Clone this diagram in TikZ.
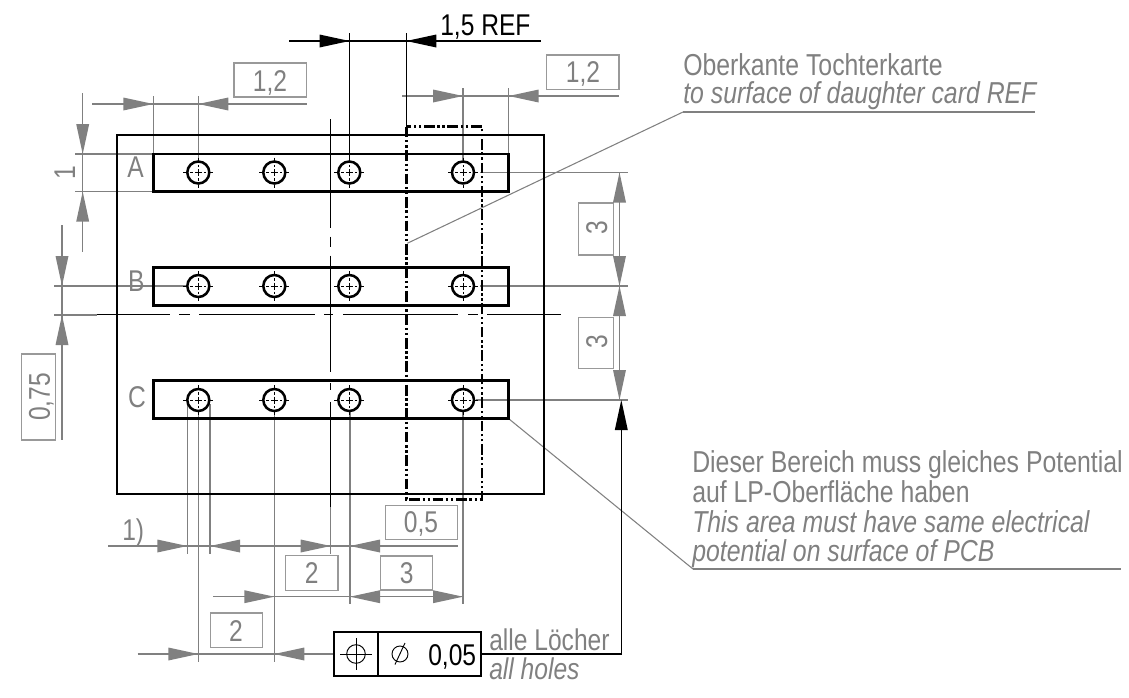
\documentclass[tikz,border=0pt]{standalone}
\usepackage{fontspec}
\setmainfont[FakeStretch=0.82]{Liberation Sans}
\usetikzlibrary{arrows.meta}
\definecolor{dimgray}{HTML}{808080}
\definecolor{boxgray}{HTML}{999999}
\newcommand{\Hole}[2]{%
  \draw[thickline] (#1,#2) circle (11);
  \draw[crossline] (#1-15,#2) -- (#1-12,#2) (#1-8,#2) -- (#1-5.5,#2) (#1-3.5,#2) -- (#1+3.5,#2) (#1+5.5,#2) -- (#1+8,#2) (#1+12,#2) -- (#1+15,#2);
  \draw[crossline] (#1,#2-15) -- (#1,#2-12) (#1,#2-8) -- (#1,#2-5.5) (#1,#2-3.5) -- (#1,#2+3.5) (#1,#2+5.5) -- (#1,#2+8) (#1,#2+12) -- (#1,#2+15);
}
\tikzset{
  thickline/.style={draw=black,line width=1.9pt},
  thinblack/.style={draw=black,line width=0.9pt},
  crossline/.style={draw=black,line width=0.7pt},
  ghostline/.style={draw=dimgray,line width=1pt},
  leader/.style={draw=dimgray,line width=0.8pt},
  noteline/.style={draw=dimgray,line width=1.2pt},
  dimbox/.style={draw=boxgray,line width=1pt},
  outline/.style={draw=black,line width=1.9pt,dash pattern=on 8pt off 2pt on 1.8pt off 2pt on 1.8pt off 2pt},
  gtip/.style={fill=dimgray,draw=none},
  ktip/.style={fill=black,draw=none},
  gtext/.style={text=dimgray,font=\fontsize{22.5}{22.5}\selectfont,inner sep=0pt,anchor=base},
  ktext/.style={text=black,font=\fontsize{22.5}{22.5}\selectfont,inner sep=0pt,anchor=base west},
  notetext/.style={text=dimgray,font=\fontsize{22.7}{22.7}\selectfont,inner sep=0pt,anchor=base west},
  noteit/.style={text=dimgray,font=\fontsize{22.7}{22.7}\selectfont\itshape,inner sep=0pt,anchor=base west},
}
\newcommand{\TipR}[3]{\fill[#1] (#2,#3) -- (#2-30,#3-6.5) -- (#2-30,#3+6.5) -- cycle;}
\newcommand{\TipL}[3]{\fill[#1] (#2,#3) -- (#2+30,#3-6.5) -- (#2+30,#3+6.5) -- cycle;}
\newcommand{\TipD}[3]{\fill[#1] (#2,#3) -- (#2-6.5,#3-30) -- (#2+6.5,#3-30) -- cycle;}
\newcommand{\TipU}[3]{\fill[#1] (#2,#3) -- (#2-6.5,#3+30) -- (#2+6.5,#3+30) -- cycle;}
\begin{document}
\begin{tikzpicture}[x=0.75pt,y=-0.75pt]
\useasboundingbox (0,0) rectangle (1129,697);
% ---------- gray extension and dimension lines
\draw[ghostline] (153.3,96) -- (153.3,154) (198.3,96) -- (198.3,160);
\draw[ghostline] (92,104) -- (306.7,104);
\draw[ghostline] (463,88) -- (463,160) (508.7,88) -- (508.7,154);
\draw[ghostline] (402,96) -- (619,96);
\draw[ghostline] (75,154) -- (153,154) (75,191.7) -- (153,191.7);
\draw[ghostline] (82.7,93) -- (82.7,252);
\draw[ghostline] (54,286) -- (186,286) (54,315) -- (97,315);
\draw[ghostline] (62,225) -- (62,440);
\draw[ghostline] (480,172.5) -- (627.7,172.5) (480,286) -- (627.7,286) (476,400) -- (627.7,400);
\draw[ghostline] (619.5,172.5) -- (619.5,400);
\draw[ghostline] (187.3,404) -- (187.3,554) (198.3,411) -- (198.3,661.7) (210,404) -- (210,554);
\draw[ghostline] (274.3,411) -- (274.3,661.7) (350,411) -- (350,604.3) (463,411) -- (463,604.3);
\draw[ghostline] (330.7,507) -- (330.7,554);
\draw[ghostline] (108,546) -- (457.7,546);
\draw[ghostline] (213,596.7) -- (463,596.7);
\draw[ghostline] (137.7,654) -- (334,654);
% ---------- leaders
\draw[leader] (407.3,243.3) -- (683,112);
\draw[noteline] (683,112) -- (1035,112);
\draw[leader] (508.7,418.7) -- (693,569);
\draw[noteline] (693,569) -- (1121,569);
% ---------- dimension boxes
\draw[dimbox] (234,63) rectangle (306.7,97);
\draw[dimbox] (546.7,55) rectangle (619,89.3);
\draw[dimbox] (21.7,354) rectangle (55.3,440);
\draw[dimbox] (578.7,203) rectangle (613.3,255);
\draw[dimbox] (578.7,317.3) rectangle (613.3,368.7);
\draw[dimbox] (385.7,505.3) rectangle (457.7,539.7);
\draw[dimbox] (285.7,555.7) rectangle (338,590.3);
\draw[dimbox] (380.7,556) rectangle (432.3,590);
\draw[dimbox] (210.3,613) rectangle (262.7,647.3);
% ---------- gray arrowheads
\TipR{gtip}{153.3}{104} \TipL{gtip}{198.3}{104}
\TipR{gtip}{463}{96} \TipL{gtip}{508.7}{96}
\TipD{gtip}{82.7}{154} \TipU{gtip}{82.7}{191.7}
\TipD{gtip}{62}{286} \TipU{gtip}{62}{315}
\TipU{gtip}{619.5}{172.5} \TipD{gtip}{619.5}{286} \TipU{gtip}{619.5}{286} \TipD{gtip}{619.5}{400}
\TipR{gtip}{187.3}{546} \TipL{gtip}{210}{546} \TipR{gtip}{330.7}{546} \TipL{gtip}{350}{546}
\TipR{gtip}{274.3}{596.7} \TipL{gtip}{350}{596.7} \TipR{gtip}{463}{596.7}
\TipR{gtip}{198.3}{654} \TipL{gtip}{274.3}{654}
% ---------- part outlines
\draw[thickline] (117,135) rectangle (544,494);
\draw[thickline] (153.3,154) rectangle (508.7,191.7);
\draw[thickline] (153.3,267.3) rectangle (508.7,305.3);
\draw[thickline] (153.3,380.7) rectangle (508.7,418.7);
\draw[outline] (406.3,126.7) rectangle (482,499.3);
% ---------- holes
\foreach \yy in {172.5,286,400}{
  \foreach \xx in {198.3,274.3,349.3,463}{\Hole{\xx}{\yy}}
}
% ---------- centre lines
\draw[thinblack] (330.7,119) -- (330.7,227.7) (330.7,236.7) -- (330.7,246.7) (330.7,255.7) -- (330.7,371.7)
  (330.7,383) -- (330.7,390) (330.7,401.7) -- (330.7,507);
\draw[thinblack] (97,314.7) -- (170,314.7) (179,314.7) -- (190,314.7) (199,314.7) -- (315,314.7)
  (324,314.7) -- (333,314.7) (343,314.7) -- (458,314.7) (468,314.7) -- (478,314.7) (487,314.7) -- (561,314.7);
% ---------- black REF dimension
\draw[thinblack] (349.5,33) -- (349.5,160) (406.3,33) -- (406.3,126.7);
\draw[thinblack] (289,41) -- (541,41);
\TipR{ktip}{349.5}{41} \TipL{ktip}{406.3}{41}
\node[ktext] (ref) at (440,35) {1,5 REF};
% ---------- feature control frame
\draw[thinblack,line width=1.1pt] (334,632) rectangle (481,676);
\draw[thinblack,line width=1.1pt] (378,632) -- (378,676);
\draw[crossline] (356,654) circle (9.3);
\draw[crossline] (340,654) -- (372,654) (356,638) -- (356,670);
\draw[crossline] (400,654) circle (8);
\draw[crossline] (395,664.5) -- (405,643);
\node[ktext] (tol) at (428,665) {0,05};
\draw[thinblack] (481,654) -- (621.3,654) -- (621.3,430);
\TipU{ktip}{621.3}{400}
\node[text=dimgray,font=\fontsize{22.5}{22.5}\selectfont,inner sep=0pt,anchor=base west] (alle) at (489,650.7) {alle Löcher};
\node[text=dimgray,font=\fontsize{22.5}{22.5}\selectfont\itshape,inner sep=0pt,anchor=base west] (allh) at (489,679) {all holes};
% ---------- dimension labels
\node[gtext] (d1) at (270,91.7) {1,2};
\node[gtext] (d2) at (583,82.7) {1,2};
\node[gtext,rotate=90] (d3) at (75,172.5) {1};
\node[gtext,rotate=90] (d4) at (50,397) {0,75};
\node[gtext,rotate=90] (d5) at (607,228) {3};
\node[gtext,rotate=90] (d6) at (607,342) {3};
\node[gtext] (d7) at (421,532.7) {0,5};
\node[gtext] (d8) at (311.7,583.5) {2};
\node[gtext] (d9) at (406.7,583.5) {3};
\node[gtext] (d10) at (236,641) {2};
\node[gtext,anchor=base west] (one) at (122,540) {1)};
\node[gtext] (rA) at (135.5,177) {A};
\node[gtext] (rB) at (136.3,291.7) {B};
\node[gtext] (rC) at (137,407.5) {C};
% ---------- notes
\node[notetext] (n1) at (683,75) {Oberkante Tochterkarte};
\node[noteit] (n2) at (683,103) {to surface of daughter card REF};
\node[notetext] (n3) at (692,472) {Dieser Bereich muss gleiches Potential};
\node[notetext] (n4) at (692,502.5) {auf LP-Oberfläche haben};
\node[noteit] (n5) at (692,532) {This area must have same electrical};
\node[noteit] (n6) at (692,561) {potential on surface of PCB};
\end{tikzpicture}
\end{document}
